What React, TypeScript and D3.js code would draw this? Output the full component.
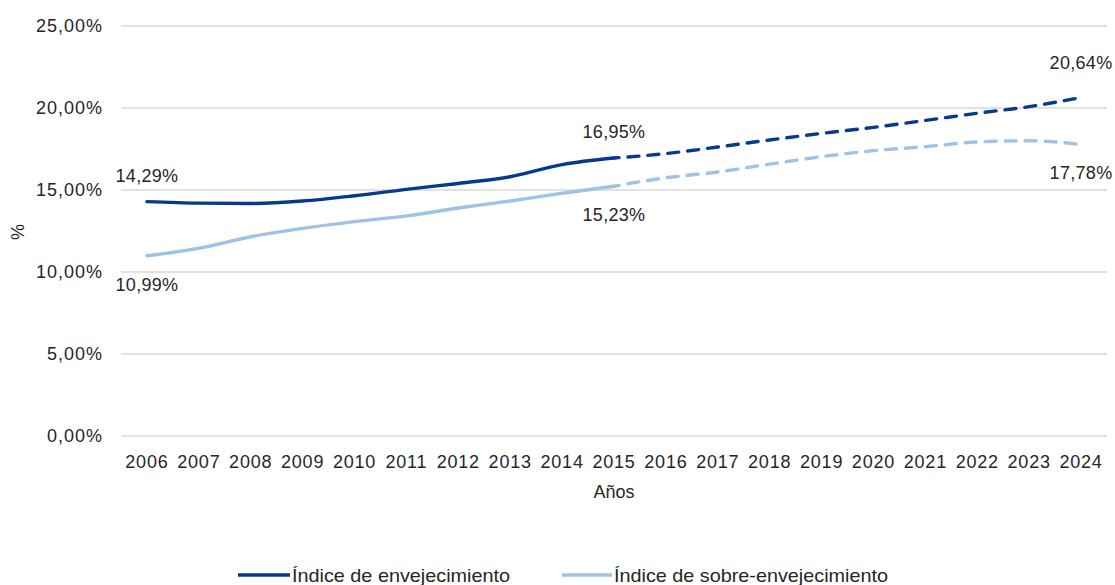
import React from "react";
import * as d3 from "d3";

const years = ["2006","2007","2008","2009","2010","2011","2012","2013","2014","2015","2016","2017","2018","2019","2020","2021","2022","2023","2024"];
const envejecimiento = [14.29,14.2,14.18,14.33,14.65,15.04,15.4,15.81,16.55,16.95,17.22,17.62,18.05,18.45,18.82,19.24,19.68,20.08,20.64];
const sobreEnvejecimiento = [10.99,11.45,12.15,12.66,13.07,13.42,13.9,14.33,14.8,15.23,15.75,16.1,16.58,17.03,17.4,17.64,17.93,18.0,17.78];
const yTicks = [0,5,10,15,20,25];
const seriesNames = ["Índice de envejecimiento","Índice de sobre-envejecimiento"];
const seriesColors = ["#073a8f","#9fc3e7"];
const lastActualIndex = 9;

const fmt = (v: number) => v.toFixed(2).replace(".", ",") + "%";

export default function App() {
  const W = 1115, H = 585;
  const x = d3.scalePoint<string>().domain(years).range([121, 1107]).padding(0.5);
  const y = d3.scaleLinear().domain([0, 25]).range([436, 26]);
  const line = d3.line<[string, number]>().x(d => x(d[0])!).y(d => y(d[1])).curve(d3.curveMonotoneX);
  const font = "'Liberation Sans', Arial, sans-serif";
  const txt = "#262626";

  const series = [envejecimiento, sobreEnvejecimiento];
  const labelDefs = [
    [{ i: 0, dy: -20 }, { i: lastActualIndex, dy: -20 }, { i: 18, dy: -29 }],
    [{ i: 0, dy: 35 }, { i: lastActualIndex, dy: 35 }, { i: 18, dy: 35 }],
  ];

  return (
    <svg width={W} height={H} style={{ display: "block", position: "absolute", left: 0, top: 0 }} fontFamily={font}>
      <rect width={W} height={H} fill="#fff" />
      {yTicks.map(t => (
        <g key={t}>
          <line x1={121} x2={1107} y1={y(t)} y2={y(t)} stroke="#d9d9d9" strokeWidth={1.3} />
          <text x={103} y={y(t) + 6} textAnchor="end" fontSize={18} letterSpacing={1} fill={txt}>{fmt(t)}</text>
        </g>
      ))}
      {years.map(yr => (
        <text key={yr} x={x(yr)} y={468} textAnchor="middle" fontSize={18} letterSpacing={0.8} fill={txt}>{yr}</text>
      ))}
      <text x={614} y={498} textAnchor="middle" fontSize={18} fill={txt}>Años</text>
      <text transform={`translate(24,232) rotate(-90)`} textAnchor="middle" fontSize={18} fill={txt}>%</text>
      {series.map((vals, si) => {
        const pts: [string, number][] = years.map((yr, i) => [yr, vals[i]]);
        return (
          <g key={si}>
            <path d={line(pts.slice(0, lastActualIndex + 1))!} fill="none" stroke={seriesColors[si]} strokeWidth={3.4} strokeLinecap="round" />
            <path d={line(pts.slice(lastActualIndex))!} fill="none" stroke={seriesColors[si]} strokeWidth={3.4} strokeDasharray="11,9" strokeDashoffset={-14} strokeLinecap="round" />
          </g>
        );
      })}
      {series.map((vals, si) =>
        labelDefs[si].map(l => (
          <text key={si + "-" + l.i} x={x(years[l.i])} y={y(vals[l.i]) + l.dy} textAnchor="middle" fontSize={18} letterSpacing={0.3} fill={txt}>{fmt(vals[l.i])}</text>
        ))
      )}
      <line x1={238} x2={290} y1={575} y2={575} stroke={seriesColors[0]} strokeWidth={3.4} />
      <text x={292} y={582} fontSize={18.5} textLength={218} lengthAdjust="spacingAndGlyphs" fill={txt}>{seriesNames[0]}</text>
      <line x1={562} x2={612} y1={575} y2={575} stroke={seriesColors[1]} strokeWidth={3.4} />
      <text x={614} y={582} fontSize={18.5} textLength={274} lengthAdjust="spacingAndGlyphs" fill={txt}>{seriesNames[1]}</text>
    </svg>
  );
}
